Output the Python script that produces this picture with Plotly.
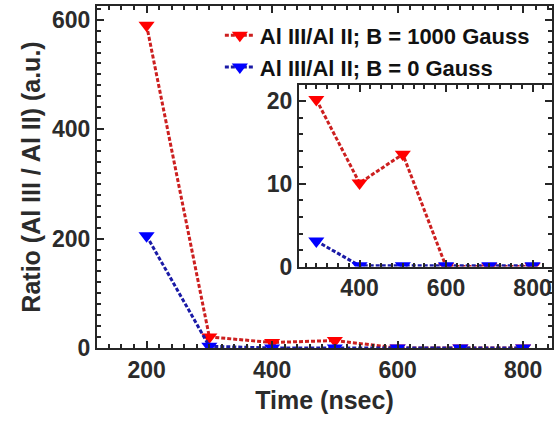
import plotly.graph_objects as go

time = [200, 300, 400, 500, 600, 700, 800]
ratio_1000 = [590, 20.2, 10.1, 13.6, 0.0, 0.0, 0.0]
ratio_0 = [205, 3.1, 0.1, 0.1, 0.1, 0.1, 0.1]

inset_time = [300, 400, 500, 600, 700, 800]
inset_1000 = [20.2, 10.1, 13.6, 0.0, 0.0, 0.0]
inset_0 = [3.1, 0.1, 0.1, 0.1, 0.1, 0.1]

name_1000 = "Al III/Al II; B = 1000 Gauss"
name_0 = "Al III/Al II; B = 0 Gauss"

RED_M, RED_L = "#ff0000", "#cc1f1f"
BLUE_M, BLUE_L = "#0000ff", "#1a1aa6"
TXT = "#2b2b2b"
AX = "#262626"
FONT = "Liberation Sans"

fig = go.Figure()

def add(x, y, name, lc, mc, xa, ya, show):
    fig.add_trace(go.Scatter(
        x=x, y=y, name=name, mode="lines+markers",
        line=dict(color=lc, width=3, dash="4px,2px"),
        marker=dict(symbol="triangle-down", size=14, color=mc, line=dict(width=0)),
        xaxis=xa, yaxis=ya, showlegend=show, cliponaxis=True))

add(time, ratio_1000, name_1000, RED_L, RED_M, "x", "y", True)
add(time, ratio_0, name_0, BLUE_L, BLUE_M, "x", "y", True)
add(inset_time, inset_1000, name_1000, RED_L, RED_M, "x2", "y2", False)
add(inset_time, inset_0, name_0, BLUE_L, BLUE_M, "x2", "y2", False)

tickfont = dict(family=FONT, size=23, color=TXT, weight="bold")

def ax(**kw):
    d = dict(showline=True, linecolor=AX, linewidth=2, mirror="allticks",
             ticks="inside", ticklen=7, tickwidth=2, tickcolor=AX,
             showgrid=False, zeroline=False,
             tickfont=tickfont, tickmode="linear")
    d.update(kw)
    return d

def mn(dt):
    return dict(dtick=dt, tick0=0, ticks="inside", ticklen=4, tickwidth=2,
                tickcolor=AX)

fig.update_layout(
    width=560, height=427,
    margin=dict(l=97, r=8, t=4, b=79),
    plot_bgcolor="white", paper_bgcolor="white",
    font=dict(family=FONT, color=TXT),
    xaxis=ax(range=[121, 846], tick0=0, dtick=200, minor=mn(20),
             title=dict(text="Time (nsec)", font=dict(family=FONT, size=25, color=TXT, weight="bold"), standoff=10)),
    yaxis=ax(range=[0, 625], tick0=0, dtick=200, minor=mn(20),
             title=dict(text="Ratio (Al III / Al II) (a.u.)", font=dict(family=FONT, size=25, color=TXT, weight="bold"), standoff=4)),
    xaxis2=ax(range=[260, 845], tick0=0, dtick=200, anchor="y2", minor=mn(25),
              domain=[0.444, 1.0]),
    yaxis2=ax(range=[0, 22], tick0=0, dtick=10, anchor="x2", minor=mn(2),
              domain=[0.238, 0.770]),
    legend=dict(x=0.27, y=0.975, xanchor="left", yanchor="top",
                bgcolor="rgba(0,0,0,0)", borderwidth=0,
                font=dict(family=FONT, size=22, color="#111111", weight="bold"),
                tracegroupgap=0, itemwidth=30),
)

fig.write_html("out.html")
